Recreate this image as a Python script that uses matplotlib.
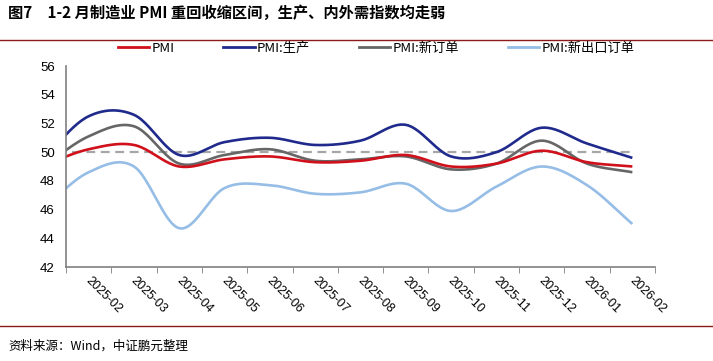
import numpy as np
import matplotlib.pyplot as plt
from matplotlib.lines import Line2D

plt.rcParams['font.family'] = ['Noto Sans CJK SC', 'DejaVu Sans']

# monthly values, 2025-01 .. 2026-02
months = ['2025-01', '2025-02', '2025-03', '2025-04', '2025-05', '2025-06', '2025-07',
          '2025-08', '2025-09', '2025-10', '2025-11', '2025-12', '2026-01', '2026-02']
pmi = [49.1, 50.2, 50.5, 49.0, 49.5, 49.7, 49.3, 49.4, 49.8, 49.0, 49.2, 50.1, 49.3, 49.0]
production = [49.6, 52.5, 52.6, 49.8, 50.7, 51.0, 50.5, 50.8, 51.9, 49.7, 50.0, 51.7, 50.6, 49.6]
new_orders = [49.0, 51.1, 51.8, 49.2, 49.8, 50.2, 49.4, 49.5, 49.7, 48.8, 49.2, 50.8, 49.2, 48.6]
export_orders = [46.1, 48.6, 49.0, 44.7, 47.5, 47.7, 47.1, 47.2, 47.8, 45.9, 47.6, 49.0, 47.7, 45.0]
threshold = 50


def smooth(vals, n=24):
    # cardinal (catmull-rom) spline through the points, like excel's smoothed line
    y = np.asarray(vals, float)
    m = np.gradient(y)
    xs, ys = [], []
    for i in range(len(y) - 1):
        t = np.linspace(0, 1, n, endpoint=False)
        h00 = 2 * t**3 - 3 * t**2 + 1
        h10 = t**3 - 2 * t**2 + t
        h01 = -2 * t**3 + 3 * t**2
        h11 = t**3 - t**2
        xs.append(i + t)
        ys.append(h00 * y[i] + h10 * m[i] + h01 * y[i + 1] + h11 * m[i + 1])
    xs.append([len(y) - 1])
    ys.append([y[-1]])
    return np.concatenate(xs) - 1, np.concatenate(ys)


fig = plt.figure(figsize=(7.13, 3.61), dpi=100)
ax = fig.add_axes([66 / 713, 1 - 267 / 361, (655 - 66) / 713, (267 - 66) / 361])

x = np.arange(len(months)) - 1
ax.plot(x, [threshold] * len(x), color='#A6A6A6', lw=1.6, dashes=(4, 2.5), zorder=1)

series = [(pmi, '#D0101B', 'PMI'),
          (production, '#1F2A8C', 'PMI:生产'),
          (new_orders, '#666666', 'PMI:新订单'),
          (export_orders, '#95BDE6', 'PMI:新出口订单')]
for vals, col, lab in reversed(series):
    sx, sy = smooth(vals)
    ax.plot(sx, sy, color=col, lw=1.9, solid_capstyle='butt', zorder=2)

ax.set_xlim(-0.5, 12.5)
ax.set_ylim(42, 56)
ax.set_yticks(np.arange(42, 57, 2))
ax.set_yticklabels([str(v) for v in range(42, 57, 2)], fontsize=9.5, family='Liberation Sans')
ax.tick_params(axis='y', length=0, pad=8)

ax.set_xticks(np.arange(13))
ax.set_xticklabels([])
ax.set_xticks(np.arange(-0.5, 13, 1), minor=True)
ax.tick_params(axis='x', which='major', length=0)
ax.tick_params(axis='x', which='minor', length=4, color='#808080', direction='out')
for i, lab in enumerate(months[1:]):
    ax.text(i - 0.12, 41.5, lab, rotation=-45, ha='left', va='top', fontsize=9,
            family='Liberation Sans', rotation_mode='default')

for s in ['top', 'right']:
    ax.spines[s].set_visible(False)
for s in ['left', 'bottom']:
    ax.spines[s].set_color('#808080')
    ax.spines[s].set_linewidth(1.2)

handles = [Line2D([], [], color=c, lw=2) for _, c, _ in series]
fig.legend(handles, [l for _, _, l in series], ncol=4, loc='center',
           bbox_to_anchor=(376 / 713, 1 - 48 / 361), frameon=False, fontsize=9.5,
           handlelength=2.4, handletextpad=0.15, columnspacing=3.7)

fig.text(8 / 713, 1 - 13 / 361, '图7　1-2 月制造业 PMI 重回收缩区间，生产、内外需指数均走弱',
         fontsize=11, fontweight='bold', ha='left', va='center')
fig.add_artist(Line2D([0, 1], [1 - 40 / 361] * 2, color='#8B1A1A', lw=1))
fig.add_artist(Line2D([0, 1], [1 - 326 / 361] * 2, color='#8B1A1A', lw=1))
fig.text(8 / 713, 1 - 346 / 361, '资料来源：Wind，中证鹏元整理', fontsize=9, ha='left', va='center')

fig.savefig('out.png', dpi=100)
